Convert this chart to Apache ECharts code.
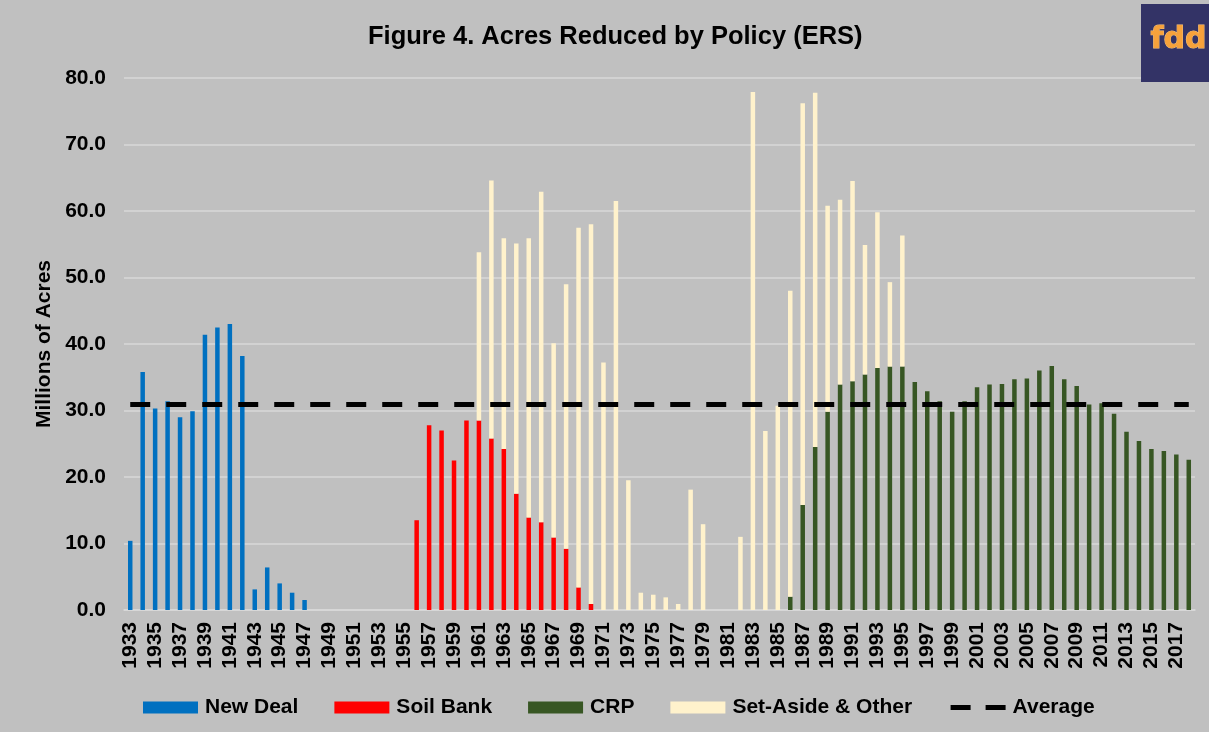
<!DOCTYPE html>
<html>
<head>
<meta charset="utf-8">
<title>Acres Reduced by Policy</title>
<script src="https://cdn.jsdelivr.net/npm/echarts@6/dist/echarts.min.js"></script>
<style>
  html, body { margin: 0; padding: 0; background: #c0c0c0; }
  #chart { width: 1209px; height: 732px; }
</style>
</head>
<body>
<div id="chart"></div>
<script>
// years on the category axis
var years = [
  1933, 1934, 1935, 1936, 1937, 1938, 1939, 1940, 1941, 1942, 1943, 1944, 1945, 1946, 1947,
  1948, 1949, 1950, 1951, 1952, 1953, 1954, 1955, 1956, 1957, 1958, 1959, 1960, 1961, 1962,
  1963, 1964, 1965, 1966, 1967, 1968, 1969, 1970, 1971, 1972, 1973, 1974, 1975, 1976, 1977,
  1978, 1979, 1980, 1981, 1982, 1983, 1984, 1985, 1986, 1987, 1988, 1989, 1990, 1991, 1992,
  1993, 1994, 1995, 1996, 1997, 1998, 1999, 2000, 2001, 2002, 2003, 2004, 2005, 2006, 2007,
  2008, 2009, 2010, 2011, 2012, 2013, 2014, 2015, 2016, 2017, 2018
];

// millions of acres, each program listed from its first year
var newDealStart = 1933;
var newDeal = [10.4, 35.8, 30.3, 31.4, 29.0, 29.9, 41.4, 42.5, 43.0, 38.2, 3.1, 6.4, 4.0, 2.6, 1.5];

var soilBankStart = 1956;
var soilBank = [13.5, 27.8, 27.0, 22.5, 28.5, 28.5, 25.8, 24.2, 17.5, 13.9, 13.2, 10.9, 9.2, 3.4, 0.9];

var crpStart = 1986;
var crp = [2.0, 15.8, 24.5, 29.8, 33.9, 34.4, 35.4, 36.4, 36.6, 36.6, 34.3, 32.9, 31.4, 29.8,
  31.4, 33.5, 33.9, 34.0, 34.7, 34.8, 36.0, 36.7, 34.7, 33.7, 30.9, 31.1, 29.5, 26.8, 25.4,
  24.2, 23.9, 23.4, 22.6];

var setAsideStart = 1961;
var setAside = [25.3, 38.8, 31.7, 37.6, 42.0, 49.7, 29.2, 39.8, 54.1, 57.1, 37.2, 61.5, 19.5,
  2.6, 2.3, 1.9, 0.9, 18.1, 12.9, 0, 0, 11.0, 77.9, 26.9, 30.7, 46.0, 60.4, 53.3, 31.0, 27.8,
  30.1, 19.5, 23.4, 12.7, 19.7];

var average = 30.9;

var yTicks = { min: 0, max: 80, step: 10 };

// spread a program's values over the full year axis
function fill(start, values) {
  return years.map(function (y) {
    var i = y - start;
    return i >= 0 && i < values.length ? values[i] : null;
  });
}

var font = '"Liberation Sans", Arial, sans-serif';
var chart = echarts.init(document.getElementById('chart'));

function bar(name, color, data) {
  return {
    name: name,
    type: 'bar',
    stack: 'acres',
    barWidth: 4.5,
    itemStyle: { color: color },
    data: data
  };
}

chart.setOption({
  backgroundColor: '#c0c0c0',
  animation: false,
  textStyle: { fontFamily: font },
  title: {
    text: 'Figure 4. Acres Reduced by Policy (ERS)',
    left: 363,
    top: 19,
    textStyle: { fontSize: 25.5, fontWeight: 'bold', color: '#000', fontFamily: font }
  },
  grid: { left: 124, right: 14, top: 78, bottom: 122 },
  legend: {
    left: 138,
    top: 692,
    itemWidth: 55,
    itemHeight: 12,
    itemGap: 36,
    textStyle: { fontSize: 21, fontWeight: 'bold', color: '#000', fontFamily: font, padding: [0, 0, 0, 2] },
    data: [
      { name: 'New Deal', icon: 'rect' },
      { name: 'Soil Bank', icon: 'rect' },
      { name: 'CRP', icon: 'rect' },
      { name: 'Set-Aside & Other', icon: 'rect' },
      { name: 'Average', itemStyle: { opacity: 0 }, lineStyle: { width: 5, type: [20, 15] } }
    ]
  },
  xAxis: {
    type: 'category',
    data: years,
    axisTick: { show: false },
    axisLine: { lineStyle: { color: '#d9d9d9', width: 1.5 } },
    axisLabel: {
      interval: 1,
      rotate: 90,
      margin: 12,
      fontSize: 21,
      fontWeight: 'bold',
      color: '#000',
      fontFamily: font
    }
  },
  yAxis: {
    type: 'value',
    min: yTicks.min,
    max: yTicks.max,
    interval: yTicks.step,
    name: 'Millions of Acres',
    nameLocation: 'middle',
    nameGap: 68,
    nameTextStyle: { fontSize: 21, fontWeight: 'bold', color: '#000', fontFamily: font },
    axisLine: { show: false },
    axisTick: { show: false },
    splitLine: { lineStyle: { color: '#d9d9d9', width: 1.5 } },
    axisLabel: {
      margin: 18,
      fontSize: 21,
      fontWeight: 'bold',
      color: '#000',
      fontFamily: font,
      formatter: function (v) { return v.toFixed(1); }
    }
  },
  series: [
    bar('New Deal', '#0070c0', fill(newDealStart, newDeal)),
    bar('Soil Bank', '#ff0000', fill(soilBankStart, soilBank)),
    bar('CRP', '#375623', fill(crpStart, crp)),
    bar('Set-Aside & Other', '#fff2cc', fill(setAsideStart, setAside)),
    {
      name: 'Average',
      type: 'line',
      symbol: 'none',
      lineStyle: { color: '#000', width: 5, type: [20, 16] },
      itemStyle: { color: '#000' },
      z: 5,
      data: years.map(function () { return average; })
    }
  ],
  graphic: [
    {
      type: 'rect',
      left: 1141,
      top: 4,
      z: 100,
      shape: { width: 68, height: 78 },
      style: { fill: '#333366' }
    },
    {
      type: 'text',
      left: 1150,
      top: 25,
      z: 101,
      style: {
        text: 'fdd',
        font: 'bold 30px "DejaVu Sans", sans-serif',
        fill: '#f7a23b',
        stroke: '#f9c27a',
        lineWidth: 1
      }
    }
  ]
});
</script>
</body>
</html>
